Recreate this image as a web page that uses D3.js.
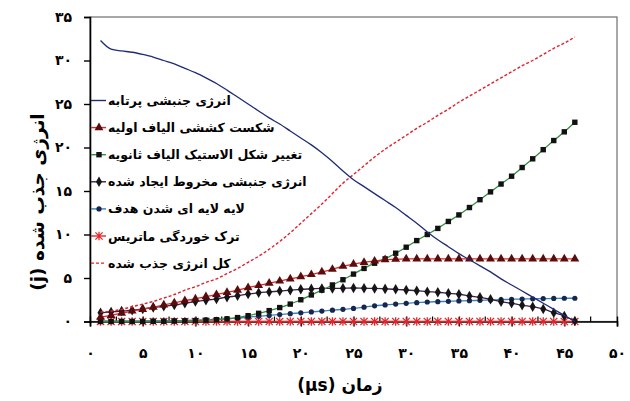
<!DOCTYPE html>
<html>
<head>
<meta charset="utf-8">
<script src="https://cdn.jsdelivr.net/npm/d3@7"></script>
<style>
  html, body { margin: 0; padding: 0; background: #fff; }
  svg { display: block; font-family: "DejaVu Sans", sans-serif; }
</style>
</head>
<body>
<svg id="chart" width="630" height="401"></svg>
<script>
// Time steps (µs)
const time = [1,2,3,4,5,6,7,8,9,10,11,12,13,14,15,16,17,18,19,20,21,22,23,24,25,26,27,28,29,30,31,32,33,34,35,36,37,38,39,40,41,42,43,44,45,46];

// Energy components (J)
const projectileKE = [32.3,31.3,31.1,30.95,30.7,30.4,30.0,29.6,29.1,28.6,28.0,27.35,26.6,25.8,25.0,24.2,23.4,22.7,21.9,21.1,20.3,19.4,18.4,17.3,16.3,15.5,14.7,13.9,13.1,12.2,11.3,10.3,9.4,8.6,7.8,7.1,6.4,5.7,4.9,4.2,3.5,2.8,2.1,1.4,0.7,0.0];
const primaryFiber = [0.5,0.7,0.95,1.2,1.4,1.65,1.9,2.15,2.4,2.6,2.85,3.1,3.35,3.6,3.9,4.15,4.4,4.65,4.9,5.15,5.4,5.7,6.0,6.35,6.6,6.8,6.95,7.1,7.15,7.2,7.2,7.2,7.2,7.2,7.2,7.2,7.2,7.2,7.2,7.2,7.2,7.2,7.2,7.2,7.2,7.2];
const secondaryFiber = [0,0,0,0,0,0.02,0.03,0.05,0.07,0.1,0.15,0.2,0.3,0.45,0.67,0.94,1.25,1.6,2.0,2.5,3.05,3.6,4.2,4.8,5.45,6.1,6.7,7.2,7.85,8.54,9.3,10.0,10.7,11.5,12.25,13.1,14.0,14.9,15.8,16.7,17.7,18.7,19.75,20.8,21.8,22.9];
const coneKE = [1.0,1.1,1.2,1.3,1.45,1.6,1.75,1.9,2.1,2.3,2.45,2.6,2.8,2.95,3.15,3.3,3.4,3.5,3.6,3.7,3.75,3.8,3.8,3.82,3.85,3.82,3.8,3.75,3.7,3.62,3.54,3.43,3.36,3.24,3.13,2.93,2.78,2.55,2.28,2.09,1.86,1.70,1.44,1.01,0.63,0.05];
const delamination = [0.05,0.05,0.05,0.05,0.06,0.07,0.08,0.1,0.12,0.15,0.2,0.25,0.32,0.4,0.5,0.6,0.7,0.8,0.9,1.0,1.1,1.2,1.3,1.4,1.5,1.65,1.8,1.9,2.0,2.09,2.16,2.24,2.28,2.32,2.36,2.39,2.43,2.47,2.51,2.55,2.58,2.61,2.63,2.65,2.67,2.67];
const matrixCracking = [0,0,0,0,0,0,0,0,0,0,0,0,0,0,0,0,0,0,0,0,0,0,0,0,0,0,0,0,0,0,0,0,0,0,0,0,0,0,0,0,0,0,0,0,0,0];
const totalAbsorbed = [1.1,1.2,1.4,1.7,2.0,2.3,2.7,3.1,3.6,4.0,4.5,4.9,5.5,6.1,6.8,7.5,8.3,9.2,10.2,11.3,12.4,13.5,14.7,15.9,16.9,17.9,18.9,19.8,20.6,21.4,22.2,22.9,23.7,24.4,25.2,25.9,26.6,27.3,28.0,28.7,29.4,30.0,30.7,31.4,32.0,32.7];

// Axis ticks and labels
const xTicks = [0,5,10,15,20,25,30,35,40,45,50];
const xTickLabels = ["۰","۵","۱۰","۱۵","۲۰","۲۵","۳۰","۳۵","۴۰","۴۵","۵۰"];
const xMinorTicks = [2.5,7.5,12.5,17.5,22.5,27.5,32.5,37.5,42.5,47.5];
const yTicks = [0,5,10,15,20,25,30,35];
const yTickLabels = ["۰","۵","۱۰","۱۵","۲۰","۲۵","۳۰","۳۵"];

const xTitle = "زمان (µs)";
const yTitle = "انرژی جذب شده (j)";

// Series definitions (legend order)
const seriesNames = [
  "انرژی جنبشی پرتابه",
  "شکست کششی الیاف اولیه",
  "تغییر شکل الاستیک الیاف ثانویه",
  "انرژی جنبشی مخروط ایجاد شده",
  "لایه لایه ای شدن هدف",
  "ترک خوردگی ماتریس",
  "کل انرژی جذب شده"
];
const seriesValues = [projectileKE, primaryFiber, secondaryFiber, coneKE, delamination, matrixCracking, totalAbsorbed];
const seriesStyle = [
  { line: "#1f2c74", marker: null,       mcolor: null,      dash: null },
  { line: "#e0262b", marker: "triangle", mcolor: "#5a0c0c", dash: null },
  { line: "#2f8f3c", marker: "square",   mcolor: "#111111", dash: null },
  { line: "#3a1f48", marker: "diamond",  mcolor: "#151515", dash: null },
  { line: "#3a80b8", marker: "circle",   mcolor: "#17264f", dash: null },
  { line: "#e0262b", marker: "asterisk", mcolor: "#e0262b", dash: null },
  { line: "#e3202c", marker: null,       mcolor: null,      dash: "3,2" }
];

const svg = d3.select("#chart");
const x = d3.scaleLinear().domain([0, 50]).range([90, 617]);
const y = d3.scaleLinear().domain([0, 35]).range([321.5, 17]);

// Plot frame
svg.append("rect")
  .attr("x", x(0)).attr("y", y(35))
  .attr("width", x(50) - x(0)).attr("height", y(0) - y(35))
  .attr("fill", "none").attr("stroke", "#6e6e6e").attr("stroke-width", 1.2);

// Y axis
const yAxis = svg.append("g")
  .attr("transform", `translate(${x(0)},0)`)
  .call(d3.axisLeft(y).tickValues(yTicks).tickFormat((d, i) => yTickLabels[i]).tickSize(6).tickPadding(12));
yAxis.select(".domain").attr("stroke", "#000").attr("stroke-width", 1.6);
yAxis.selectAll(".tick line").attr("stroke", "#000").attr("stroke-width", 1.4);
yAxis.selectAll(".tick text")
  .attr("font-family", "DejaVu Sans").attr("font-weight", "bold").attr("font-size", 14).attr("fill", "#000");

// X axis (major ticks cross the axis line)
const xAxis = svg.append("g")
  .attr("transform", `translate(0,${y(0)})`)
  .call(d3.axisBottom(x).tickValues(xTicks).tickFormat((d, i) => xTickLabels[i]).tickSize(5).tickPadding(22));
xAxis.select(".domain").attr("stroke", "#000").attr("stroke-width", 1.6);
xAxis.selectAll(".tick line").attr("y1", -5).attr("stroke", "#000").attr("stroke-width", 1.4);
xAxis.selectAll(".tick text")
  .attr("font-family", "DejaVu Sans").attr("font-weight", "bold").attr("font-size", 14).attr("fill", "#000");

// X minor ticks (inside)
svg.append("g").selectAll("line").data(xMinorTicks).join("line")
  .attr("x1", d => x(d)).attr("x2", d => x(d))
  .attr("y1", y(0)).attr("y2", y(0) - 5)
  .attr("stroke", "#000").attr("stroke-width", 1.2);

// Marker drawing
function drawMarker(g, type, color, cx, cy) {
  if (type === "triangle") {
    g.append("path").attr("d", d3.symbol(d3.symbolTriangle, 34)())
      .attr("transform", `translate(${cx},${cy})`).attr("fill", color);
  } else if (type === "square") {
    g.append("rect").attr("x", cx - 2.7).attr("y", cy - 2.7).attr("width", 5.4).attr("height", 5.4).attr("fill", color);
  } else if (type === "diamond") {
    g.append("path").attr("d", d3.symbol(d3.symbolDiamond, 32)())
      .attr("transform", `translate(${cx},${cy})`).attr("fill", color);
  } else if (type === "circle") {
    g.append("circle").attr("cx", cx).attr("cy", cy).attr("r", 2.6).attr("fill", color);
  } else if (type === "asterisk") {
    const r = 3.6;
    g.append("path")
      .attr("d", `M${cx - r},${cy - r}L${cx + r},${cy + r}M${cx - r},${cy + r}L${cx + r},${cy - r}M${cx},${cy - r * 1.2}L${cx},${cy + r * 1.2}`)
      .attr("stroke", color).attr("stroke-width", 1.3).attr("fill", "none");
  }
}

// Series lines and markers
const line = d3.line().x((d, i) => x(time[i])).y(d => y(d)).curve(d3.curveMonotoneX);
const plot = svg.append("g");
const drawOrder = [5, 4, 3, 2, 1, 6, 0];
drawOrder.forEach(k => {
  const st = seriesStyle[k];
  const vals = seriesValues[k];
  plot.append("path").datum(vals)
    .attr("d", line)
    .attr("fill", "none")
    .attr("stroke", st.line)
    .attr("stroke-width", k === 6 ? 1.4 : 1.3)
    .attr("stroke-dasharray", st.dash);
  if (st.marker) {
    const mg = plot.append("g");
    vals.forEach((v, i) => drawMarker(mg, st.marker, st.mcolor, x(time[i]), y(v)));
  }
});

// Legend
const legend = svg.append("g");
seriesNames.forEach((name, k) => {
  const st = seriesStyle[k];
  const ly = 100.5 + k * 27.1;
  legend.append("line")
    .attr("x1", 91).attr("x2", 106).attr("y1", ly).attr("y2", ly)
    .attr("stroke", st.line).attr("stroke-width", 1.4)
    .attr("stroke-dasharray", st.dash);
  if (st.marker) drawMarker(legend, st.marker, st.mcolor, 99, ly);
  legend.append("text")
    .attr("x", 108).attr("y", ly)
    .attr("dominant-baseline", "central")
    .attr("font-family", "DejaVu Sans").attr("font-weight", "bold").attr("font-size", 12.5)
    .attr("fill", "#000")
    .text(name);
});

// Axis titles (right-to-left paragraphs)
svg.append("text")
  .attr("x", 340).attr("y", 385)
  .attr("direction", "rtl")
  .attr("text-anchor", "middle").attr("dominant-baseline", "central")
  .attr("font-family", "DejaVu Sans").attr("font-weight", "bold").attr("font-size", 17)
  .text(xTitle);

svg.append("text")
  .attr("transform", "translate(37,202) rotate(-90)")
  .attr("direction", "rtl")
  .attr("text-anchor", "middle").attr("dominant-baseline", "central")
  .attr("font-family", "DejaVu Sans").attr("font-weight", "bold").attr("font-size", 18.5)
  .text(yTitle);
</script>
</body>
</html>
